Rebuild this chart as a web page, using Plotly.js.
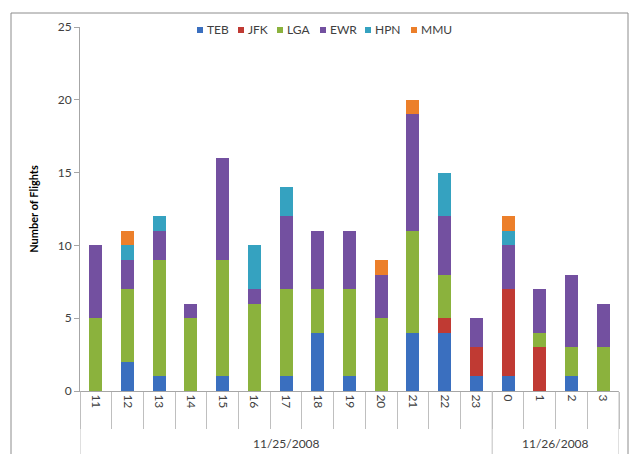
<!DOCTYPE html>
<html>
<head>
<meta charset="utf-8">
<script src="https://cdn.plot.ly/plotly-3.0.1.min.js"></script>
<style>
html,body{margin:0;padding:0;background:#fff;}
#chart{width:629px;height:454px;}
</style>
</head>
<body>
<div id="chart"></div>
<script>
const hours = ['11','12','13','14','15','16','17','18','19','20','21','22','23','0','1','2','3'];
const dayLabels = ['11/25/2008','11/26/2008'];
const dayCounts = [13, 4];

const TEB = [0,2,1,0,1,0,1,4,1,0,4,4,1,1,0,1,0];
const JFK = [0,0,0,0,0,0,0,0,0,0,0,1,2,6,3,0,0];
const LGA = [5,5,8,5,8,6,6,3,6,5,7,3,0,0,1,2,3];
const EWR = [5,2,2,1,7,1,5,4,4,3,8,4,2,3,3,5,3];
const HPN = [0,1,1,0,0,3,2,0,0,0,0,3,0,1,0,0,0];
const MMU = [0,1,0,0,0,0,0,0,0,1,1,0,0,1,0,0,0];

const seriesNames = ['TEB','JFK','LGA','EWR','HPN','MMU'];
const seriesValues = [TEB,JFK,LGA,EWR,HPN,MMU];
const colors = ['#3A6FBF','#C03A33','#8BB23D','#7350A0','#35A2C0','#EC7F2A'];

const traces = seriesNames.map((n,i)=>({
  type:'bar',
  name:n,
  x:hours,
  y:seriesValues[i],
  marker:{color:colors[i], line:{width:0}},
  hoverinfo:'skip',
  showlegend:false
}));

const fam = 'Lato, "Open Sans", sans-serif';
const W = 629, H = 454, ML = 80, MR = 10, MT = 27, MB = 63;
const PW = W - ML - MR, PH = H - MT - MB;
const px = v => (v - ML) / PW;
const py = v => (H - MB - v) / PH;

const shapes = [];
const annotations = [];

// group dividers and labels below the category axis
let start = -0.5;
shapes.push({type:'line', xref:'x', yref:'paper', x0:start, x1:start, y0:0, y1:py(H+2),
  line:{color:'#bfbfbf', width:1}});
dayLabels.forEach((d,i)=>{
  const end = start + dayCounts[i];
  shapes.push({type:'line', xref:'x', yref:'paper', x0:end, x1:end, y0:0, y1:py(H+2),
    line:{color:'#bfbfbf', width:1}});
  annotations.push({xref:'x', yref:'paper', x:(start+end)/2, y:py(443), yanchor:'middle',
    text:d, showarrow:false, font:{family:fam, size:12, color:'#404040'}});
  start = end;
});

// legend (top, horizontal)
const legendLeft = [197, 238, 277, 320, 365, 411];
seriesNames.forEach((n,i)=>{
  const x0 = legendLeft[i];
  shapes.push({type:'rect', xref:'paper', yref:'paper',
    x0:px(x0), x1:px(x0+6), y0:py(33), y1:py(27),
    line:{width:0}, fillcolor:colors[i]});
  annotations.push({xref:'paper', yref:'paper', x:px(x0+8), y:py(30),
    xanchor:'left', yanchor:'middle', text:n, showarrow:false,
    font:{family:fam, size:12, color:'#404040'}});
});

// outer chart-area border
shapes.push({type:'rect', xref:'paper', yref:'paper',
  x0:px(11), x1:px(628), y0:py(H+2), y1:py(13),
  line:{color:'#8c8c8c', width:1}, fillcolor:'rgba(0,0,0,0)', layer:'below'});

const layout = {
  width:W, height:H,
  margin:{l:ML, r:MR, t:MT, b:MB, pad:0},
  paper_bgcolor:'#ffffff', plot_bgcolor:'#ffffff',
  barmode:'stack',
  bargap:0.59,
  font:{family:fam, size:11, color:'#404040'},
  showlegend:false,
  xaxis:{
    type:'category',
    range:[-0.5, 16.5],
    showline:true, linecolor:'#a6a6a6', linewidth:1,
    ticks:'outside', tickson:'boundaries', ticklen:37, tickcolor:'#bfbfbf', tickwidth:1,
    tickangle:90,
    tickfont:{family:fam, size:12, color:'#404040'},
    showgrid:false, zeroline:false, fixedrange:true
  },
  yaxis:{
    range:[0,25], tickvals:[0,5,10,15,20,25],
    showline:true, linecolor:'#a6a6a6', linewidth:1,
    ticks:'outside', ticklen:5, tickcolor:'#a6a6a6',
    showgrid:false, zeroline:false,
    tickfont:{family:fam, size:12, color:'#404040'},
    title:{text:'Number of Flights', font:{family:fam, size:11, color:'#000', weight:'bold'}, standoff:16},
    fixedrange:true
  },
  shapes:shapes,
  annotations:annotations
};

Plotly.newPlot('chart', traces, layout, {displayModeBar:false, staticPlot:true});
</script>
</body>
</html>
